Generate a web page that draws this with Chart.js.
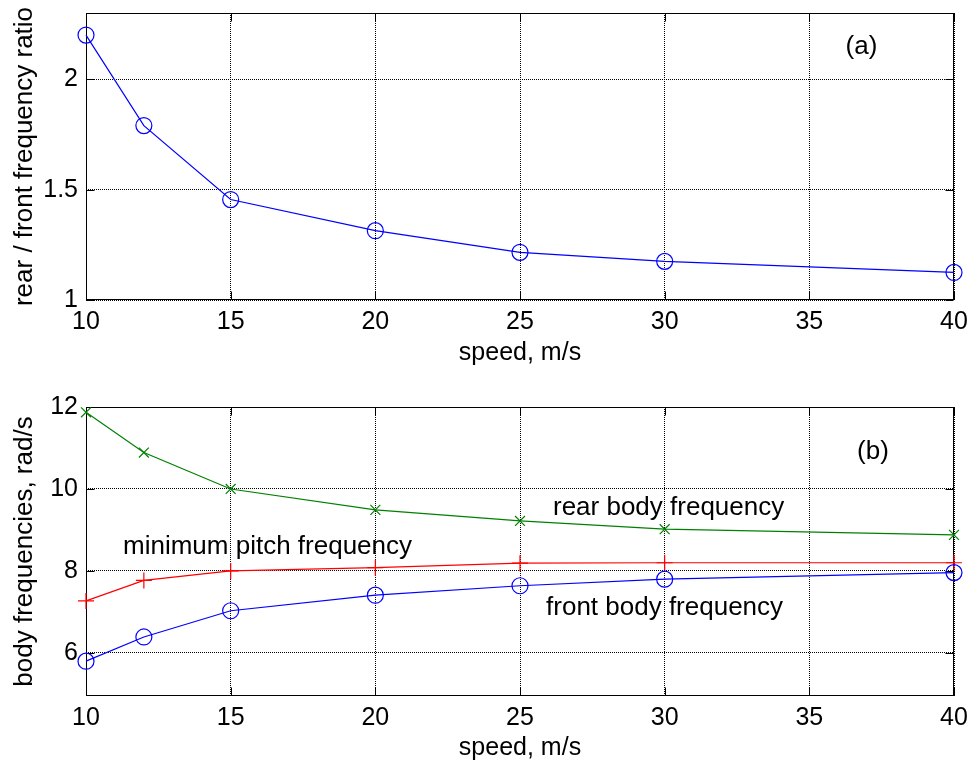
<!DOCTYPE html>
<html>
<head>
<meta charset="utf-8">
<title>body frequencies vs speed</title>
<script src="https://cdn.jsdelivr.net/npm/chart.js@4.4.1/dist/chart.umd.min.js"></script>
<style>
  html, body { margin: 0; padding: 0; background: #fff; }
  #wrap { position: relative; width: 972px; height: 767px; }
  .box { position: absolute; left: 0; width: 972px; }
  #boxA { top: 0; height: 383px; }
  #boxB { top: 383px; height: 384px; }
</style>
</head>
<body>
<div id="wrap">
  <div class="box" id="boxA"><canvas id="chartA"></canvas></div>
  <div class="box" id="boxB"><canvas id="chartB"></canvas></div>
</div>
<script>
// speeds (m/s) where the model was evaluated
const speeds = [10, 12, 15, 20, 25, 30, 40];

// (a) rear / front frequency ratio
const ratio = [2.20, 1.79, 1.455, 1.314, 1.216, 1.175, 1.125];

// (b) body frequencies, rad/s
const rearFreq = [11.87, 10.89, 10.0, 9.49, 9.22, 9.02, 8.88];
const pitchFreq = [7.27, 7.77, 8.0, 8.08, 8.19, 8.2, 8.2];
const frontFreq = [5.8, 6.39, 7.03, 7.41, 7.64, 7.8, 7.96];

// tick values
const speedTicks = [10, 15, 20, 25, 30, 35, 40];
const ratioTicks = [1, 1.5, 2];
const freqTicks = [6, 8, 10, 12];

const FONT = "'Liberation Sans', Arial, Helvetica, sans-serif";

function pts(ys) {
    return speeds.map((s, i) => ({ x: s, y: ys[i] }));
}

// box around the plot area plus inward tick marks, and the text notes
const axesBox = {
    id: 'axesBox',
    beforeDatasetsDraw(chart) {
        const { ctx, chartArea: a, scales } = chart;
        const L = Math.round(a.left) + 0.5, R = Math.round(a.right) - 0.5;
        const T = Math.round(a.top) + 0.5, B = Math.round(a.bottom) - 0.5;
        ctx.save();
        ctx.strokeStyle = '#000';
        ctx.lineWidth = 1;
        ctx.setLineDash([]);
        ctx.strokeRect(L, T, R - L, B - T);
        ctx.beginPath();
        scales.x.ticks.forEach(t => {
            const px = Math.round(scales.x.getPixelForValue(t.value)) + 0.5;
            ctx.moveTo(px, B); ctx.lineTo(px, B - 8);
            ctx.moveTo(px, T); ctx.lineTo(px, T + 8);
        });
        scales.y.ticks.forEach(t => {
            const py = Math.round(scales.y.getPixelForValue(t.value)) + 0.5;
            ctx.moveTo(L, py); ctx.lineTo(L + 8, py);
            ctx.moveTo(R, py); ctx.lineTo(R - 8, py);
        });
        ctx.stroke();
        ctx.restore();
    },
    afterDatasetsDraw(chart, args, opts) {
        const { ctx, scales } = chart;
        ctx.save();
        ctx.fillStyle = '#000';
        ctx.font = '26px ' + FONT;
        ctx.textBaseline = 'middle';
        (opts.notes || []).forEach(n => {
            ctx.textAlign = n.align || 'left';
            ctx.fillText(n.text, scales.x.getPixelForValue(n.x), scales.y.getPixelForValue(n.y));
        });
        ctx.restore();
    }
};

function makeChart(id, datasets, yOpts, xTitlePad, xHeight, padTop, notes) {
    return new Chart(document.getElementById(id), {
        type: 'line',
        data: { datasets: datasets },
        options: {
            responsive: true,
            maintainAspectRatio: false,
            animation: false,
            layout: { padding: { left: 0, right: 18, top: padTop, bottom: 0 } },
            plugins: {
                legend: { display: false },
                tooltip: { enabled: false },
                axesBox: { notes: notes }
            },
            scales: {
                x: {
                    type: 'linear',
                    min: 10,
                    max: 40,
                    afterBuildTicks: s => { s.ticks = speedTicks.map(v => ({ value: v })); },
                    afterFit: s => { s.height = xHeight; s.paddingLeft = 0; s.paddingRight = 0; },
                    ticks: { color: '#000', padding: 7, maxRotation: 0, autoSkip: false, callback: v => String(v), font: { family: FONT, size: 25 } },
                    grid: { color: '#000', lineWidth: 1, drawTicks: false },
                    border: { display: false, dash: [1, 1] },
                    title: { display: true, text: 'speed, m/s', color: '#000', font: { family: FONT, size: 25 }, padding: { top: 0, bottom: xTitlePad } }
                },
                y: {
                    type: 'linear',
                    min: yOpts.min,
                    max: yOpts.max,
                    afterBuildTicks: s => { s.ticks = yOpts.ticks.map(v => ({ value: v })); },
                    afterFit: s => { s.width = 86; s.paddingTop = 0; s.paddingBottom = 0; },
                    ticks: { color: '#000', padding: 8, callback: v => String(v), font: { family: FONT, size: 25 } },
                    grid: { color: '#000', lineWidth: 1, drawTicks: false },
                    border: { display: false, dash: [1, 1] },
                    title: { display: true, text: yOpts.title, color: '#000', font: { family: FONT, size: 26 }, padding: { top: 9, bottom: 0 } }
                }
            }
        },
        plugins: [axesBox]
    });
}

function series(ys, color, style, radius) {
    return {
        data: pts(ys),
        borderColor: color,
        borderWidth: 1.2,
        pointStyle: style,
        pointRadius: radius,
        pointBorderColor: color,
        pointBackgroundColor: 'rgba(0,0,0,0)',
        pointBorderWidth: 1.2,
        tension: 0,
        clip: false
    };
}

makeChart('chartA',
    [series(ratio, '#0000ff', 'circle', 8)],
    { min: 1, max: 2.3, ticks: ratioTicks, title: 'rear / front frequency ratio' },
    15, 83, 13,
    [{ text: '(a)', x: 36.8, y: 2.145, align: 'center' }]
);

makeChart('chartB',
    [
        series(frontFreq, '#0000ff', 'circle', 8),
        series(rearFreq, '#008000', 'crossRot', 7),
        series(pitchFreq, '#ff0000', 'cross', 8)
    ],
    { min: 4.95, max: 12, ticks: freqTicks, title: 'body frequencies, rad/s' },
    4, 71, 24,
    [
        { text: '(b)', x: 37.2, y: 10.9, align: 'center' },
        { text: 'rear body frequency', x: 26.14, y: 9.55 },
        { text: 'minimum pitch frequency', x: 11.28, y: 8.6 },
        { text: 'front body frequency', x: 25.9, y: 7.09 }
    ]
);
</script>
</body>
</html>
